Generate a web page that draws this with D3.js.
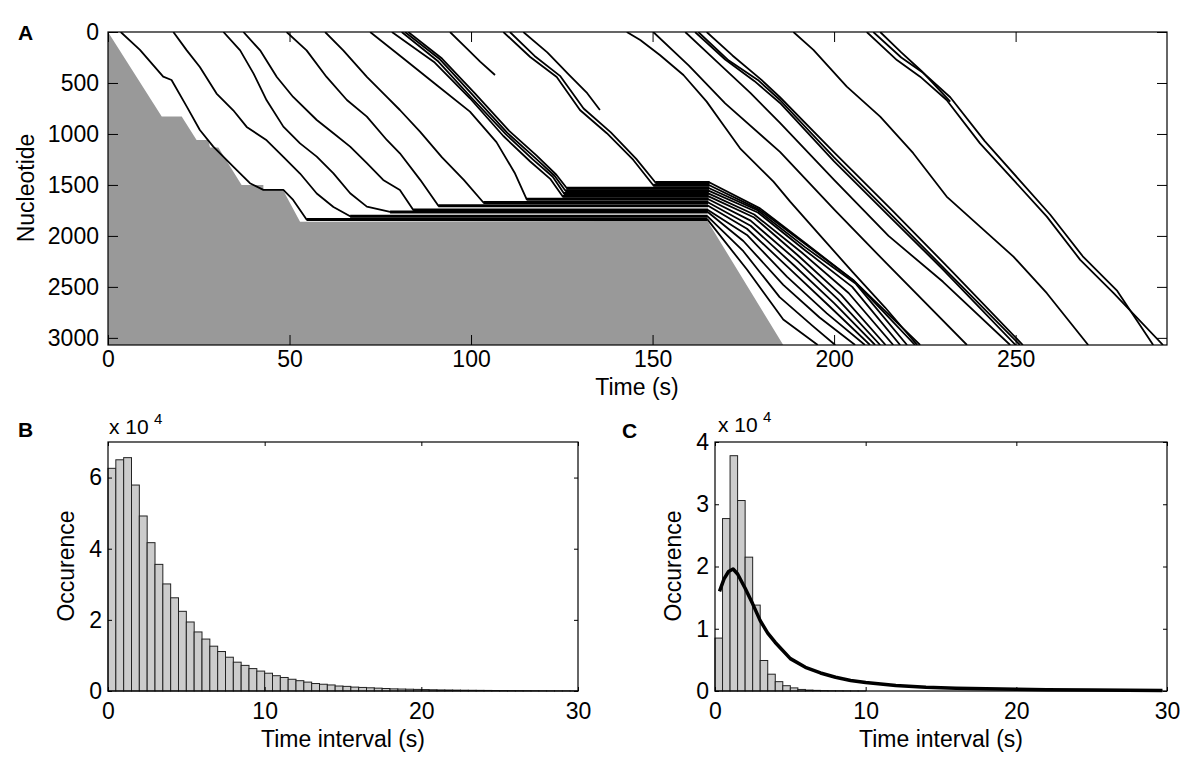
<!DOCTYPE html>
<html>
<head>
<meta charset="utf-8">
<script src="https://cdn.jsdelivr.net/npm/d3@7"></script>
<style>
  body { margin: 0; background: #fff; }
  text { font-family: "Liberation Sans", Arial, Helvetica, sans-serif; fill: #000; }
</style>
</head>
<body>
<svg id="fig" width="1200" height="766"></svg>
<script>
// ---------- panel A : ribosome tracks, time (s) vs nucleotide ----------
const aTicksT = [0, 50, 100, 150, 200, 250];
const aTicksN = [0, 500, 1000, 1500, 2000, 2500, 3000];

// grey area ahead of the leading front
const leadFront = [[0,0],[14.8,830],[20.3,830],[24.4,1059],[27.6,1059],[28.1,1134],[30.4,1134],
  [36.8,1500],[42.8,1500],[42.8,1542],[48.1,1542],[52.9,1860],[165.1,1852],[186,3070],[0,3070]];

// queued tracks: where they stop, when they arrive and when they leave
const queueN   = [1838,1808,1765,1745,1705,1672,1640,1612,1585,1558,1532,1503,1476];
const queueIn  = [54.7,66.7,77.7,84.1,91,103.4,115.3,125.2,125.6,126,126.4,150.2,150.8];
const queueOut = [165.1,165.15,165.2,165.25,165.3,165.35,165.4,165.45,165.5,165.55,165.6,165.65,165.7];

const approach = [
  [[3.5,0],[8.8,176],[15.2,438],[17.5,471],[21.7,732],[25.3,961],[29,1124],[34.5,1320],[39.1,1483],[42.8,1549],[48.3,1549],[51,1647]],
  [[18,0],[21.7,180],[25.3,343],[29.9,604],[34.5,768],[38.2,931],[43.7,1062],[48.3,1225],[52.9,1388],[57.5,1584],[62.1,1716]],
  [[31.8,0],[36.4,180],[40.1,408],[43.7,670],[48.3,928],[52.9,1092],[57.5,1222],[62.1,1386],[66.7,1582],[71.3,1713]],
  [[37.3,0],[41.9,180],[46.5,441],[51,637],[57.5,863],[62.1,993],[66.7,1124],[71.3,1287],[75.8,1451],[80.4,1549]],
  [[49.2,0],[54.7,180],[60.2,441],[65.8,667],[71.3,830],[76.8,1059],[80.4,1190],[86,1450]],
  [[59.8,0],[64.8,180],[71.3,441],[76.8,637],[80.4,765],[86,980],[92,1230],[98,1450]],
  [[72.2,0],[81.3,258],[90.5,520],[99.7,781],[107,1080],[112,1380]],
  [[78.2,0],[90,300],[99.7,650],[108.9,1020],[116.3,1270],[121.8,1440]],
  [[80.9,0],[91,290],[100,640],[109.5,1000],[117,1250],[122.5,1420]],
  [[81.8,0],[91.5,270],[100.5,620],[110,990],[117.5,1230],[123,1410]],
  [[82.7,0],[92,260],[101,600],[110.5,970],[118,1210],[123.5,1400]],
  [[108.9,0],[116.3,245],[123.6,441],[130,765],[137.4,993],[144.7,1255]],
  [[110.7,0],[117.5,235],[124.5,430],[131,750],[138.5,985],[145.5,1245]]
];

const exitPath = [
  [[176,2330],[186,2820],[195.5,3070]],
  [[175,2150],[185,2600],[194,2880],[200.3,3070]],
  [[175,2050],[186,2480],[196,2800],[205.8,3070]],
  [[176,1990],[187,2400],[198,2760],[208.5,3070]],
  [[176,1930],[188,2330],[199,2700],[209.9,3070]],
  [[177,1900],[189,2290],[200,2660],[211.3,3070]],
  [[177,1850],[190,2250],[201,2620],[212.7,3070]],
  [[178,1820],[190,2190],[202,2580],[214.2,3070]],
  [[178,1790],[191,2160],[204,2560],[216.3,3070]],
  [[179,1770],[192,2140],[205,2500],[218.2,3070]],
  [[179,1750],[192,2110],[206,2470],[220.1,3070]],
  [[179.5,1745],[192.4,2090],[205.5,2440],[222.3,3070]],
  [[179.6,1730],[192.4,2080],[205.2,2431],[223.7,3070]]
];

// tracks that never join the queue
const freeTracks = [
  [[94.2,0],[98.8,160],[102.5,291],[106.6,422]],
  [[114.4,0],[121,200],[127,420],[132,600],[135.5,765]],
  [[142.9,0],[146.6,78],[152,225],[158.5,422],[164.9,683],[169.5,912],[174.1,1141],[183.3,1467],[187.9,1664],[196,1990],[205,2350],[214,2700],[222.9,3070]],
  [[150.2,0],[160,330],[170,700],[185.1,1176],[200,1740],[215,2290],[236.6,3070]],
  [[159,0],[168,300],[177,600],[185.1,892],[200,1450],[215,2000],[230,2450],[248.5,3070]],
  [[161.7,0],[170,270],[178,480],[185.1,696],[200,1270],[215,1800],[230,2330],[250,3070]],
  [[162.6,0],[171,280],[179,470],[185.1,667],[200,1230],[216,1800],[232,2380],[251.2,3070]],
  [[164.9,0],[172,230],[180,470],[185.1,640],[200,1180],[216,1750],[232,2330],[252,3070]],
  [[188.8,0],[194.3,176],[203.5,536],[212.7,830],[221.8,1189],[231,1614],[240.2,1909],[249.4,2203],[258.6,2562],[270,3070]],
  [[209,0],[217.3,275],[223.7,438],[231,667],[240.2,1092],[249.4,1451],[258.6,1811],[267.8,2235],[277,2562],[290.6,3070]],
  [[210.8,0],[218.5,250],[224.5,400],[232,640],[241.5,1070],[250.5,1430],[259.5,1790],[268.5,2200],[278,2540],[287.9,3070]],
  [[212.7,0],[218.5,200],[224,380],[228,530],[232,683]]
];

// ---------- panel B : all intervals, 0.5 s bins (x 10^4) ----------
const bTicksX = [0, 10, 20, 30];
const bTicksY = [0, 2, 4, 6];
const binsB = [6.26,6.50,6.56,5.79,4.92,4.17,3.56,3.01,2.62,2.24,1.94,1.66,1.46,1.26,1.11,0.95,0.81,0.72,0.63,0.56,
  0.50,0.43,0.38,0.33,0.29,0.25,0.21,0.19,0.17,0.14,0.13,0.11,0.10,0.09,0.08,0.07,0.06,0.055,0.05,0.045,
  0.04,0.035,0.03,0.028,0.025,0.022,0.02,0.018,0.016,0.014,0.012,0.011,0.01,0.009,0.008,0.007,0.006,0.005,0.005,0.004];

// ---------- panel C : intervals with fitted curve (x 10^4) ----------
const cTicksX = [0, 10, 20, 30];
const cTicksY = [0, 1, 2, 3, 4];
const binsC = [0.85,2.77,3.78,3.06,2.15,1.38,0.49,0.27,0.15,0.085,0.05,0.025,0.015,0.01,0.006,0.004,0.003,0.002,0.001,0.001];
const fitC = [[0.3,1.6],[0.6,1.8],[0.9,1.92],[1.2,1.96],[1.5,1.88],[2,1.65],[2.5,1.4],[3,1.13],[3.5,0.93],[4,0.78],
  [5,0.52],[6,0.38],[7,0.29],[8,0.22],[9,0.17],[10,0.135],[12,0.09],[14,0.06],[16,0.045],[18,0.035],[20,0.027],
  [22,0.02],[25,0.015],[29.7,0.01]];
const binWidth = 0.5;

const FS = 23;
const svg = d3.select('#fig');

// box with inward ticks on all four sides (matlab look)
function drawFrame(x, y, xt, yt, len, padX, padY) {
  const [x0, x1] = x.range();
  const [y0, y1] = y.range();  // y0 = bottom
  const g = svg.append('g');
  g.append('g').attr('transform', `translate(0,${y0})`)
    .call(d3.axisBottom(x).tickValues(xt).tickSize(-len).tickSizeOuter(0).tickPadding(padX).tickFormat(d3.format('d')));
  g.append('g').attr('transform', `translate(0,${y1})`)
    .call(d3.axisTop(x).tickValues(xt).tickSize(-len).tickSizeOuter(0).tickFormat(''));
  g.append('g').attr('transform', `translate(${x0},0)`)
    .call(d3.axisLeft(y).tickValues(yt).tickSize(-len).tickSizeOuter(0).tickPadding(padY).tickFormat(d3.format('d')));
  g.append('g').attr('transform', `translate(${x1},0)`)
    .call(d3.axisRight(y).tickValues(yt).tickSize(-len).tickSizeOuter(0).tickFormat(''));
  g.selectAll('.domain').remove();
  g.selectAll('.tick line').attr('stroke', '#000').attr('stroke-width', 1);
  g.selectAll('.tick text').attr('font-size', FS).attr('font-family', null).attr('fill', '#000');
  g.append('rect').attr('x', x0).attr('y', y1).attr('width', x1 - x0).attr('height', y0 - y1)
    .attr('fill', 'none').attr('stroke', '#000').attr('stroke-width', 1.2);
}

// ---------- A ----------
const tA = d3.scaleLinear().domain([0, 291.7]).range([108, 1167]);
const nA = d3.scaleLinear().domain([0, 3070]).range([32, 345]);

svg.append('clipPath').attr('id', 'clipA').append('rect')
  .attr('x', 108).attr('y', 32).attr('width', 1059).attr('height', 313);
const plotA = svg.append('g').attr('clip-path', 'url(#clipA)');

const lineA = d3.line().x(d => tA(d[0])).y(d => nA(d[1]));

plotA.append('path').datum(leadFront).attr('d', lineA).attr('fill', '#999999');

const queued = approach.map((a, i) =>
  a.concat([[queueIn[i], queueN[i]], [queueOut[i], queueN[i]]], exitPath[i]));

plotA.selectAll('path.track')
  .data(queued.concat(freeTracks))
  .join('path')
  .attr('class', 'track')
  .attr('d', lineA)
  .attr('fill', 'none')
  .attr('stroke', '#000')
  .attr('stroke-width', 1.8)
  .attr('stroke-linejoin', 'round');

// waiting segments drawn heavier so the queue reads as a black block
plotA.selectAll('line.wait')
  .data(queueN)
  .join('line')
  .attr('class', 'wait')
  .attr('x1', (d, i) => tA(queueIn[i]))
  .attr('x2', (d, i) => tA(queueOut[i]))
  .attr('y1', d => nA(d))
  .attr('y2', d => nA(d))
  .attr('stroke', '#000')
  .attr('stroke-width', 3);

drawFrame(tA, nA.copy().range([345, 32]).domain([3070, 0]), aTicksT, aTicksN, 10, 6, 9);

svg.append('text').attr('x', 637).attr('y', 395).attr('text-anchor', 'middle')
  .attr('font-size', FS).text('Time (s)');
svg.append('text').attr('transform', 'translate(34,188) rotate(-90)').attr('text-anchor', 'middle')
  .attr('font-size', FS).text('Nucleotide');
svg.append('text').attr('x', 18).attr('y', 40).attr('font-size', 21).attr('font-weight', 'bold').text('A');

// ---------- histogram panel helper ----------
function histPanel(bins, xr, yr, yMax, xt, yt, padY) {
  const x = d3.scaleLinear().domain([0, 30]).range(xr);
  const y = d3.scaleLinear().domain([0, yMax]).range(yr);
  svg.append('g').selectAll('rect')
    .data(bins)
    .join('rect')
    .attr('x', (d, i) => x(i * binWidth))
    .attr('width', x(binWidth) - x(0))
    .attr('y', d => y(d))
    .attr('height', d => y(0) - y(d))
    .attr('fill', '#cccccc')
    .attr('stroke', '#222')
    .attr('stroke-width', 1);
  drawFrame(x, y, xt, yt, 4, 12, padY);
  return { x, y };
}

// ---------- B ----------
const B = histPanel(binsB, [108, 578], [691, 442], 7, bTicksX, bTicksY, 6);
svg.append('text').attr('x', 343).attr('y', 747).attr('text-anchor', 'middle')
  .attr('font-size', FS).text('Time interval (s)');
svg.append('text').attr('transform', 'translate(74,566) rotate(-90)').attr('text-anchor', 'middle')
  .attr('font-size', FS).text('Occurence');
svg.append('text').attr('x', 18).attr('y', 437).attr('font-size', 21).attr('font-weight', 'bold').text('B');
svg.append('text').attr('x', 109).attr('y', 434).attr('font-size', 21).text('x 10');
svg.append('text').attr('x', 154).attr('y', 424).attr('font-size', 15).text('4');

// ---------- C ----------
const C = histPanel(binsC, [715, 1167], [691, 442], 4, cTicksX, cTicksY, 6);
svg.append('path').datum(fitC)
  .attr('d', d3.line().x(d => C.x(d[0])).y(d => C.y(d[1])))
  .attr('fill', 'none').attr('stroke', '#000').attr('stroke-width', 3.5)
  .attr('stroke-linejoin', 'round');
svg.append('text').attr('x', 941).attr('y', 747).attr('text-anchor', 'middle')
  .attr('font-size', FS).text('Time interval (s)');
svg.append('text').attr('transform', 'translate(681,566) rotate(-90)').attr('text-anchor', 'middle')
  .attr('font-size', FS).text('Occurence');
svg.append('text').attr('x', 622).attr('y', 438).attr('font-size', 21).attr('font-weight', 'bold').text('C');
svg.append('text').attr('x', 718).attr('y', 432).attr('font-size', 21).text('x 10');
svg.append('text').attr('x', 763).attr('y', 422).attr('font-size', 15).text('4');
</script>
</body>
</html>
